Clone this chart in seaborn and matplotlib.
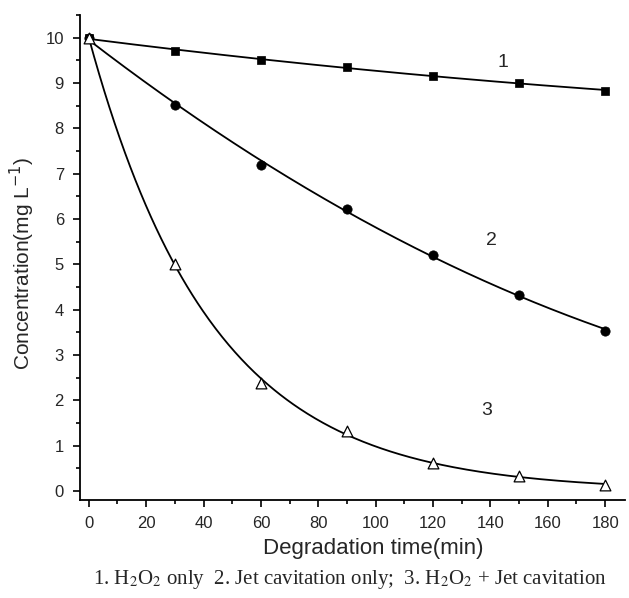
import numpy as np
import pandas as pd
import seaborn as sns
import matplotlib
matplotlib.use("Agg")
import matplotlib.pyplot as plt
from matplotlib.ticker import MultipleLocator

# Degradation data (concentration, mg/L) sampled every 30 min
time_min = [0, 30, 60, 90, 120, 150, 180]
h2o2_only = [10.0, 9.70, 9.51, 9.35, 9.16, 9.00, 8.83]
jet_only = [10.0, 8.51, 7.20, 6.21, 5.21, 4.32, 3.53]
h2o2_jet = [10.0, 5.01, 2.38, 1.31, 0.62, 0.33, 0.13]

curve_labels = ["1", "2", "3"]
caption = ("1. H$_2$O$_2$ only  2. Jet cavitation only;  "
           "3. H$_2$O$_2$ + Jet cavitation")

sns.set_style("ticks")
plt.rcParams["font.family"] = ["Liberation Sans", "DejaVu Sans"]

fig = plt.figure(figsize=(6.29, 5.98), dpi=100)
ax = fig.add_axes([0.127, 0.164, 0.867, 0.811])

t = np.asarray(time_min, dtype=float)
tt = np.linspace(0, 180, 400)

# smooth fitted curves: quadratic for the slow series, first-order decay for the fast one
fit1 = np.polyval(np.polyfit(t, h2o2_only, 2), tt)
fit2 = np.polyval(np.polyfit(t, jet_only, 2), tt)
y3 = np.asarray(h2o2_jet)
p3 = np.polyfit(t, np.log(y3), 1, w=y3)
fit3 = np.exp(np.polyval(p3, tt))

curves = pd.DataFrame({
    "t": np.concatenate([tt, tt, tt]),
    "c": np.concatenate([fit1, fit2, fit3]),
    "s": ["1"] * len(tt) + ["2"] * len(tt) + ["3"] * len(tt),
})
sns.lineplot(data=curves, x="t", y="c", units="s", estimator=None,
             color="black", lw=1.3, ax=ax, legend=False)

kw = dict(ax=ax, legend=False, zorder=3)
sns.scatterplot(x=time_min, y=h2o2_only, marker="s", s=38, color="black",
                edgecolor="black", linewidth=0.5, **kw)
sns.scatterplot(x=time_min, y=jet_only, marker="o", s=45, color="black",
                edgecolor="black", linewidth=0.5, **kw)
sns.scatterplot(x=time_min, y=h2o2_jet, marker="^", s=60, facecolor="white",
                edgecolor="black", linewidth=0.9, **kw)

for lab, (x, y) in zip(curve_labels, [(144.5, 9.45), (140.5, 5.52), (138.8, 1.77)]):
    ax.text(x, y, lab, fontsize=14, ha="center", va="center")

ax.set_xlim(-3.1, 187)
ax.set_ylim(-0.2, 10.5)
ax.xaxis.set_major_locator(MultipleLocator(20))
ax.xaxis.set_minor_locator(MultipleLocator(10))
ax.yaxis.set_major_locator(MultipleLocator(1))
ax.yaxis.set_minor_locator(MultipleLocator(0.5))
ax.tick_params(which="major", direction="out", length=5, width=1.2,
               labelsize=12, pad=6.5, color="black")
ax.tick_params(which="minor", direction="out", length=3, width=1.2, color="black")
for side in ("top", "right"):
    ax.spines[side].set_visible(False)
for side in ("left", "bottom"):
    ax.spines[side].set_linewidth(1.3)
    ax.spines[side].set_color("black")

ax.set_xlabel("Degradation time(min)", fontsize=16, labelpad=4)
ax.xaxis.set_label_coords(0.538, -0.078)
ax.set_ylabel("Concentration(mg L$^{-1}$)", fontsize=15, labelpad=6,
              math_fontfamily="dejavusans")
ax.yaxis.label.set_y(0.487)

fig.text(0.557, 0.012, caption, ha="center", va="bottom", fontsize=15,
         family="Liberation Serif", math_fontfamily="stix")

fig.savefig("out.png", dpi=100)
